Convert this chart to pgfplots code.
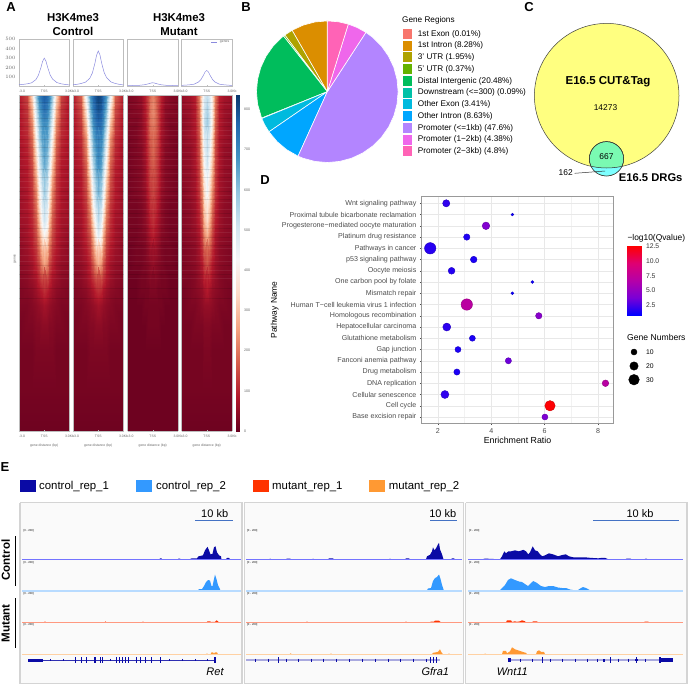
\documentclass[border=0pt]{standalone}
\usepackage{fontspec}
\setmainfont{Liberation Sans}
\usepackage{pgfplots}
\usepackage{pgfplotstable}
\pgfplotsset{compat=1.18}

\definecolor{frameg}{HTML}{BDBDBD}
\definecolor{tickg}{HTML}{666666}
\definecolor{prof}{HTML}{8A8ADE}
\definecolor{navy}{HTML}{0A0AA5}
\definecolor{sky}{HTML}{3399FF}
\definecolor{redt}{HTML}{FF3300}
\definecolor{orat}{HTML}{FF9933}
\definecolor{barb}{HTML}{4472C4}
\definecolor{gA}{HTML}{F8766D}
\definecolor{gB}{HTML}{DB8E00}
\definecolor{gC}{HTML}{AEA200}
\definecolor{gD}{HTML}{64B200}
\definecolor{gE}{HTML}{00BD5C}
\definecolor{gF}{HTML}{00C1A7}
\definecolor{gG}{HTML}{00BADE}
\definecolor{gH}{HTML}{00A6FF}
\definecolor{gI}{HTML}{B385FF}
\definecolor{gJ}{HTML}{EF67EB}
\definecolor{gK}{HTML}{FF63B6}
\definecolor{venny}{HTML}{FFFF80}
\definecolor{venng}{HTML}{7AFAB2}
\definecolor{vennc}{HTML}{7DFFFF}

\newcommand{\fs}[1]{\fontsize{#1}{#1}\selectfont}
\newcommand{\tx}[4][center]{\node[anchor=#1,inner sep=0pt] at (#2pt,-#3pt) {#4};}

\pgfplotsset{
  colormap={rdbu}{HTML=(67001F) HTML=(B2182B) HTML=(D6604D) HTML=(F4A582) HTML=(FDDBC7) HTML=(F7F7F7) HTML=(D1E5F0) HTML=(92C5DE) HTML=(4393C3) HTML=(2166AC) HTML=(053061)},
  colormap={dotcm}{HTML=(0000FF) HTML=(7A00D6) HTML=(B500A8) HTML=(DF0073) HTML=(FF0000)},
  pxroot/.style={at={(344pt,-342.5pt)},anchor=center,scale only axis,width=688pt,height=685pt,
    xmin=0,xmax=688,ymin=0,ymax=685,y dir=reverse,hide axis,clip=false},
  pxbox/.style n args={4}{at={(#1pt,-#2pt)},anchor=south west,scale only axis,width=#3pt,height=#4pt},
  small ticks/.style={
    xtick={-3,0,3},
    xticklabels={\hspace{6pt}-3.0,TSS,3.0Kb\hspace{10pt}},
    tick label style={font=\fs{3.4},text=tickg},
    major tick length=1pt,
    tick style={frameg,line width=.3pt},
    axis line style={frameg,line width=.7pt},
    xtick pos=bottom,
    xticklabel shift=0.5pt,
  },
  profile/.style={
    small ticks,xmin=-3,xmax=3,ymin=9,ymax=500,ytick=\empty,
  },
  heat/.style={
    small ticks,xmin=-3,xmax=3,ymin=0,ymax=336,ytick=\empty,view={0}{90},
    colormap name=rdbu,point meta min=0,point meta max=100,axis on top,
    xlabel={gene distance (bp)},
    xlabel style={font=\fs{3.4},text=tickg,yshift=.7pt},
  },
}

% heatmap columns (kb, one side of the TSS) and rows (px above the bottom)
\def\colx{ifthenelse(mod(\coordindex,7)<0.5,0,ifthenelse(mod(\coordindex,7)<1.5,0.3,ifthenelse(mod(\coordindex,7)<2.5,0.6,ifthenelse(mod(\coordindex,7)<3.5,0.95,ifthenelse(mod(\coordindex,7)<4.5,1.4,ifthenelse(mod(\coordindex,7)<5.5,2,3))))))}
\def\rowy{ifthenelse(\coordindex<112,336-14*floor(\coordindex/7),ifthenelse(\coordindex<119,106,ifthenelse(\coordindex<126,81,ifthenelse(\coordindex<133,41,0))))}

\pgfplotstableread[row sep=\\,header=false]{
92\\90\\85\\70\\40\\16\\10\\
88\\85\\78\\62\\32\\14\\9\\
82\\80\\72\\55\\26\\13\\9\\
80\\78\\68\\48\\22\\12\\9\\
78\\74\\62\\42\\19\\11\\8\\
76\\70\\58\\36\\17\\10\\8\\
72\\66\\50\\30\\15\\10\\8\\
68\\60\\45\\25\\14\\9\\7\\
66\\58\\40\\22\\13\\9\\7\\
60\\52\\34\\19\\12\\8\\7\\
48\\42\\28\\17\\11\\8\\6\\
40\\34\\22\\14\\10\\7\\5\\
30\\26\\17\\12\\8\\6\\5\\
20\\17\\13\\9\\7\\5\\4\\
13\\11\\9\\7\\5\\4\\3\\
8\\7\\6\\5\\4\\3\\3\\
5\\5\\4\\4\\3\\3\\2\\
3\\3\\3\\3\\2\\2\\2\\
2\\2\\2\\2\\2\\2\\2\\
1\\1\\1\\1\\1\\1\\1\\
}\heatA
\pgfplotstableread[row sep=\\,header=false]{
97\\95\\90\\80\\55\\20\\10\\
94\\92\\86\\74\\44\\17\\10\\
90\\88\\82\\66\\36\\15\\9\\
86\\84\\76\\58\\28\\13\\9\\
84\\80\\72\\52\\24\\12\\8\\
82\\78\\66\\46\\20\\11\\8\\
78\\72\\60\\38\\18\\10\\8\\
74\\68\\54\\32\\16\\10\\7\\
70\\62\\48\\26\\14\\9\\7\\
64\\56\\40\\22\\13\\8\\7\\
56\\48\\32\\18\\12\\8\\6\\
44\\38\\26\\15\\10\\7\\5\\
32\\28\\19\\12\\8\\6\\5\\
21\\18\\14\\10\\7\\5\\4\\
13\\12\\9\\7\\5\\4\\3\\
8\\7\\6\\5\\4\\3\\3\\
5\\5\\4\\4\\3\\3\\2\\
3\\3\\3\\3\\2\\2\\2\\
2\\2\\2\\2\\2\\2\\2\\
1\\1\\1\\1\\1\\1\\1\\
}\heatB
\pgfplotstableread[row sep=\\,header=false]{
25\\22\\17\\11\\6\\4\\3\\
26\\23\\16\\10\\5\\4\\3\\
24\\22\\16\\9\\5\\3\\3\\
23\\20\\15\\8\\5\\3\\2\\
21\\18\\14\\8\\4\\3\\2\\
19\\17\\13\\7\\4\\3\\2\\
18\\16\\12\\7\\4\\3\\2\\
16\\14\\11\\6\\4\\3\\2\\
15\\13\\9\\5\\3\\2\\2\\
13\\11\\8\\5\\3\\2\\2\\
11\\9\\7\\4\\3\\2\\2\\
8\\7\\5\\3\\2\\2\\1\\
6\\5\\4\\3\\2\\2\\1\\
4\\4\\3\\2\\2\\1\\1\\
3\\3\\2\\2\\2\\1\\1\\
2\\2\\2\\2\\1\\1\\1\\
2\\2\\2\\1\\1\\1\\1\\
1\\1\\1\\1\\1\\1\\1\\
1\\1\\1\\1\\1\\1\\1\\
1\\1\\1\\1\\1\\1\\1\\
}\heatC
\pgfplotstableread[row sep=\\,header=false]{
62\\58\\45\\24\\11\\8\\6\\
66\\60\\46\\22\\10\\7\\6\\
68\\62\\44\\20\\10\\7\\5\\
64\\58\\40\\18\\9\\7\\5\\
62\\54\\38\\17\\9\\6\\5\\
60\\50\\34\\16\\9\\6\\5\\
56\\46\\30\\15\\8\\6\\5\\
52\\42\\26\\14\\8\\6\\4\\
48\\38\\22\\12\\7\\5\\4\\
40\\33\\19\\11\\7\\5\\4\\
32\\26\\16\\9\\6\\5\\4\\
24\\20\\13\\8\\5\\4\\3\\
18\\15\\10\\7\\5\\4\\3\\
14\\12\\8\\6\\4\\3\\3\\
10\\8\\6\\5\\4\\3\\2\\
6\\6\\5\\4\\3\\3\\2\\
4\\4\\3\\3\\3\\2\\2\\
3\\3\\2\\2\\2\\2\\2\\
2\\2\\2\\2\\2\\2\\2\\
1\\1\\1\\1\\1\\1\\1\\
}\heatD

% thin horizontal streaks of the heatmaps
\pgfplotstableread[row sep=\\,header=false]{
327\\318\\309\\301\\296\\288\\279\\272\\266\\258\\250\\244\\236\\229\\222\\214\\207\\199\\190\\183\\176\\170\\161\\153\\
}\streakL
\pgfplotstableread[row sep=\\,header=false]{
329\\322\\313\\305\\292\\284\\275\\262\\254\\240\\232\\218\\203\\194\\186\\166\\157\\143\\133\\
}\streakD

\newcommand{\heatplot}[1]{
  \addplot3[surf,shader=interp,mesh/cols=7,mesh/ordering=x varies,point meta=\thisrowno{0}] table[x index=0,y index=0,z index=0,x expr={\colx},y expr={\rowy},z expr=0]{#1};
  \addplot3[surf,shader=interp,mesh/cols=7,mesh/ordering=x varies,point meta=\thisrowno{0}] table[x index=0,y index=0,z index=0,x expr={-(\colx)},y expr={\rowy},z expr=0]{#1};
  \addplot3[only marks,mark=-,mark size=25.25pt,mark options={white,opacity=.07,line width=.4pt}] table[x index=0,y index=0,z index=0,x expr=0,z expr=0]{\streakL};
  \addplot3[only marks,mark=-,mark size=25.25pt,mark options={black,opacity=.1,line width=.6pt}] table[x index=0,y index=0,z index=0,x expr=0,z expr=0]{\streakD};
}

% filled rectangle in the pixel axis
\newcommand{\sw}[5]{\addplot[fill=#5,draw=none] coordinates {(#1,#2)(#3,#2)(#3,#4)(#1,#4)};}
% signal track: baseline, colour, line style, x0, x1, x h rows
\newcommand{\trk}[6]{
  \addplot[fill=#2,draw=none] table[row sep=\\,x index=0,y expr={#1-\thisrowno{1}}]{#6};
  \addplot[#3,line cap=butt] coordinates {(#4,#1)(#5,#1)};
}

\begin{document}
\begin{tikzpicture}
\useasboundingbox (0pt,0pt) rectangle (688pt,-685pt);

% pixel axis for panels C and E, legends
\begin{axis}[pxroot]
  % panel B legend swatches
  \sw{402.7}{29}{412.3}{39}{gA}
  \sw{402.7}{40.7}{412.3}{50.7}{gB}
  \sw{402.7}{52.3}{412.3}{62.3}{gC}
  \sw{402.7}{64}{412.3}{74}{gD}
  \sw{402.7}{76}{412.3}{86}{gE}
  \sw{402.7}{87.7}{412.3}{97.7}{gF}
  \sw{402.7}{99.3}{412.3}{109.3}{gG}
  \sw{402.7}{111.3}{412.3}{121.3}{gH}
  \sw{402.7}{123}{412.3}{133}{gI}
  \sw{402.7}{134.7}{412.3}{144.7}{gJ}
  \sw{402.7}{146.3}{412.3}{156.3}{gK}

  % panel C circles
  \addplot[only marks,mark=*,mark size=72.3pt,mark options={fill=venny,draw=black!75,line width=.5pt}] coordinates {(606.7,95.7)};
  \addplot[only marks,mark=*,mark size=17.2pt,mark options={fill=venng,draw=none}] coordinates {(606.5,158.8)};

  % gene number legend of panel D
  \addplot[only marks,mark=*,black,mark size=3pt] coordinates {(634,352)};
  \addplot[only marks,mark=*,black,mark size=4.2pt] coordinates {(634,366)};
  \addplot[only marks,mark=*,black,mark size=5.3pt] coordinates {(634,379.7)};

  % genes legend in the profile row
  \addplot[prof,line width=.5pt] coordinates {(211,42.3)(217,42.3)};

  % panel E legend
  \sw{20}{480}{35.7}{491.7}{navy}
  \sw{136}{480}{151.7}{491.7}{sky}
  \sw{253}{480}{268.7}{491.7}{redt}
  \sw{369}{480}{385}{491.7}{orat}

  % panel E boxes
  \addplot[fill=black!2,draw=black!17,line width=1.2pt] coordinates {(20,502.7)(242,502.7)(242,683.3)(20,683.3)(20,502.7)};
  \addplot[fill=black!2,draw=black!17,line width=1.2pt] coordinates {(244.3,502.7)(463.7,502.7)(463.7,683.3)(244.3,683.3)(244.3,502.7)};
  \addplot[fill=black!2,draw=black!17,line width=1.2pt] coordinates {(465.7,502.7)(687,502.7)(687,683.3)(465.7,683.3)(465.7,502.7)};

  % scale bars
  \addplot[barb,line width=1pt] coordinates {(195,520.3)(233.3,520.3)};
  \addplot[barb,line width=1pt] coordinates {(430,520.3)(456.7,520.3)};
  \addplot[barb,line width=1pt] coordinates {(593.3,520.3)(679.3,520.3)};

  % side bars
  \addplot[black,line width=.8pt] coordinates {(15.3,536)(15.3,586)};
  \addplot[black,line width=.8pt] coordinates {(15.3,598.3)(15.3,647.7)};

  % Ret tracks
  \trk{559.3}{navy}{blue!55,line width=.9pt}{22.3}{241}{159.5 0\\160 1\\161.5 1\\162 0\\178 0\\178.5 .7\\180 .7\\180.5 0\\190 0\\191 .8\\197 1\\198.5 3\\203 4\\205 9\\207.5 12.5\\209 9\\210.5 5\\212.5 5.5\\214 12\\215.5 13\\217 7\\219 4\\221 3\\221.5 0\\226 0\\227 1.5\\229 1.5\\230 0\\}
  \trk{591}{sky}{sky!35,line width=1.5pt}{22.3}{241}{142 0\\143 .7\\144 0\\185 0\\186 .8\\187 0\\197.5 0\\199 2\\202 2\\204 5\\206 9\\208 11\\210 10.5\\211.5 5\\212.5 5\\214 12\\215 16.5\\216.5 12\\218 6\\220 2\\220.5 0\\}
  \trk{622.3}{redt}{redt!50,line width=.8pt}{22.3}{241}{44 0\\45 1\\46 0\\104.5 0\\105.5 1\\106.5 0\\142 0\\143 .8\\144 0\\206.5 0\\207.5 1\\210 1\\211 .3\\215 .5\\216.5 2\\218 1\\219 0\\}
  \trk{654.3}{orat}{orat!45,line width=.8pt}{22.3}{241}{206 0\\207 1\\208 0\\210.5 0\\211.5 2\\213 2\\214 .5\\215 2\\217 2\\218 0\\}

  % Gfra1 tracks
  \trk{559.3}{navy}{blue!55,line width=.9pt}{246}{462}{269.5 0\\270 .8\\271 0\\286 0\\287 .8\\290 .8\\291 0\\312.5 0\\313 .7\\314 0\\328 0\\329 .9\\333 .9\\334 0\\389 0\\390 .7\\391 0\\405 0\\406 1\\409 1\\410 0\\426 0\\427 3\\430 4.5\\432 8\\433 12\\434.5 9\\436 11\\437.5 14\\439 16.5\\440 10\\442 5\\443.5 0\\451 0\\452 1\\454 1\\455 0\\}
  \trk{591}{sky}{sky!35,line width=1.5pt}{246}{462}{288 0\\289 .7\\290 0\\331 0\\332 .7\\333 0\\406 0\\407 .7\\408 0\\426.5 0\\428 2.5\\431 3\\433 10\\435 13\\437 14\\439 16.5\\440.5 12\\442 6\\444 0\\}
  \trk{622.3}{redt}{redt!50,line width=.8pt}{246}{462}{306 0\\307 .8\\308 0\\405 0\\406 .8\\407 0\\430 0\\431 .8\\434 .8\\435 1.6\\439 1.6\\441 0\\}
  \trk{654.3}{orat}{orat!45,line width=.8pt}{246}{462}{289.5 0\\290.5 1\\292 0\\330 0\\331 1\\332 0\\432 0\\433 1.5\\436 2\\438 2.5\\440 5\\441.5 2\\443 0\\448 0\\449 1\\450 0\\}

  % Wnt11 tracks
  \trk{559.3}{navy}{blue!55,line width=.9pt}{468.3}{683}{482 0\\485 .7\\490 .5\\500 0\\502 3\\504.3 8\\506 6\\508.3 8\\511 8\\515 9\\519 8\\523.3 9.5\\526 8\\528.3 5\\530 7\\532.7 13\\535 9\\537.7 8\\540 5\\542.3 3\\545 4\\549 6\\553 5\\558.3 3\\561 4\\565.7 5\\569 3\\573.3 2\\578 2\\585 2\\590 1.5\\598.3 1\\602 1.5\\605 1.5\\608.3 0\\625 0\\627 .8\\630 .8\\632 0\\644 0\\646 .7\\648 0\\}
  \trk{591}{sky}{sky!35,line width=1.5pt}{468.3}{683}{483 0\\486 .6\\489 0\\499 0\\502 3\\505 6\\508 11\\511 12.7\\515 11\\519 9.5\\522 9\\525 7\\528 5\\531 8\\533.3 10\\537 8\\541 5\\545 4\\549 5\\553 5\\558 3.5\\562 3\\566 3\\570 1.5\\573 1\\578 1\\581 3\\583 4\\586 3\\590 .8\\605 .4\\606 0\\}
  \trk{622.3}{redt}{redt!50,line width=.8pt}{468.3}{683}{506 0\\507 2\\511 2\\512 .4\\515 1\\517 .5\\520 1\\522 2\\525 1\\526 0\\532 0\\533 1\\537 1\\538 0\\644 0\\645 .8\\648 .8\\649 0\\}
  \trk{654.3}{orat}{orat!45,line width=.8pt}{468.3}{683}{484 0\\485 .7\\487 0\\502 0\\503 3.5\\506 3.5\\507 1\\510 3\\512 7\\515 5\\518 4\\521 3\\524 2\\526 1.5\\527 0\\536 0\\537 3\\539 4\\541 2.5\\544 2.5\\545 0\\}

  % gene models
  \addplot[navy!85,line width=.5pt] coordinates {(28.3,660)(216,660)};
  \addplot[navy,line width=3pt] coordinates {(28.3,660)(42.7,660)};
  \addplot[only marks,mark=|,mark size=3pt,mark options={navy,line width=.9pt}] coordinates {(75,660)(81,660)(86,660)(94.3,660)(95.7,660)(100.7,660)(102.3,660)(116.7,660)(119.3,660)(122,660)(125,660)(128.3,660)(136.7,660)(140,660)(145,660)(151.7,660)(160.7,660)(214,660)(215.3,660)};
  \addplot[only marks,mark=|,mark size=1.2pt,mark options={navy,line width=.4pt}] coordinates {(50,660)(63.3,660)(110,660)(169.3,660)(181.7,660)(195,660)(206.7,660)};

  \addplot[navy!35,line width=2pt] coordinates {(246,660)(440,660)};
  \addplot[only marks,mark=|,mark size=3pt,mark options={navy,line width=.9pt}] coordinates {(278.3,660)(430.7,660)(433.3,660)(436,660)};
  \addplot[only marks,mark=|,mark size=1.5pt,mark options={navy,line width=.4pt}] coordinates {(255,660)(268,660)(286,660)(298,660)(311,660)(323,660)(336,660)(349,660)(362,660)(375,660)(388,660)(400,660)(413,660)(426,660)};

  \addplot[navy!35,line width=2pt] coordinates {(507.7,660)(673,660)};
  \addplot[navy,line width=3.5pt] coordinates {(507.7,660)(511,660)};
  \addplot[navy,line width=3pt] coordinates {(603,660)(605,660)};
  \addplot[navy,line width=2.5pt] coordinates {(635.3,660)(638,660)};
  \addplot[navy,line width=3.2pt] coordinates {(660,660)(673.3,660)};
  \addplot[only marks,mark=|,mark size=3pt,mark options={navy,line width=1.2pt}] coordinates {(542.3,660)(610.7,660)(636.7,660)(660,660)};
  \addplot[only marks,mark=|,mark size=1.5pt,mark options={navy,line width=.4pt}] coordinates {(520,660)(532,660)(550,660)(562,660)(575,660)(587,660)(597,660)(618,660)(628,660)(645,660)};
\end{axis}

% panel C: part of the small circle outside the big one, above the marks
\begin{axis}[pxroot]
  \addplot[fill=vennc,draw=none] coordinates {(591,166.3)(596.7,167.3)(601.7,167.8)(606.7,168)(611.7,167.8)(616.7,167.3)(622.2,166.3)(619.7,169.9)(615.1,173.7)(606.5,176)(597.9,173.7)(593.3,169.9)(591,166.3)};
  \addplot[black!80,line width=.5pt] coordinates {(591,166.3)(596.7,167.3)(601.7,167.8)(606.7,168)(611.7,167.8)(616.7,167.3)(622.2,166.3)};
  \addplot[only marks,mark=o,mark size=17.2pt,mark options={draw=black!75,line width=.5pt}] coordinates {(606.5,158.8)};
  \addplot[black!80,line width=.5pt] coordinates {(574.7,173.3)(605,171)};
\end{axis}

% panel A: profiles
\begin{axis}[pxbox={19}{86}{50.5}{47},profile,ytick={100,200,300,400,500},major tick length=1pt]
  \addplot[prof,line width=.5pt] coordinates {(-3,22)(-2.5,26)(-2,32)(-1.5,42)(-1,75)(-.7,120)(-.4,200)(-.2,265)(0,300)(.2,270)(.4,205)(.7,125)(1,80)(1.5,45)(2,32)(2.5,25)(3,20)};
\end{axis}
\begin{axis}[pxbox={73}{86}{50.5}{47},profile]
  \addplot[prof,line width=.5pt] coordinates {(-3,22)(-2.5,27)(-2,36)(-1.5,50)(-1,90)(-.7,145)(-.4,245)(-.2,330)(0,375)(.2,335)(.4,250)(.7,150)(1,95)(1.5,52)(2,36)(2.5,26)(3,20)};
\end{axis}
\begin{axis}[pxbox={127.5}{86}{50.5}{47},profile]
  \addplot[prof,line width=.5pt] coordinates {(-3,13)(-2,15)(-1.5,17)(-1,22)(-.5,32)(-.2,40)(0,43)(.2,40)(.5,32)(1,22)(1.5,17)(2,15)(3,13)};
\end{axis}
\begin{axis}[pxbox={181.5}{86}{50.5}{47},profile]
  \addplot[prof,line width=.5pt] coordinates {(-3,16)(-2.5,18)(-2,22)(-1.5,28)(-1,50)(-.7,75)(-.4,120)(-.2,155)(0,172)(.2,155)(.4,120)(.7,75)(1,50)(1.5,28)(2,22)(2.5,18)(3,15)};
\end{axis}

% panel A: heatmaps
\begin{axis}[pxbox={19}{431}{50.5}{336},heat]
  \heatplot{\heatA}
\end{axis}
\begin{axis}[pxbox={73}{431}{50.5}{336},heat]
  \heatplot{\heatB}
\end{axis}
\begin{axis}[pxbox={127.5}{431}{50.5}{336},heat]
  \heatplot{\heatC}
\end{axis}
\begin{axis}[pxbox={181.5}{431}{50.5}{336},heat]
  \heatplot{\heatD}
\end{axis}

% panel A: colour bar
\begin{axis}[pxbox={236}{431}{3}{336},xmin=0,xmax=1,ymin=0,ymax=836,view={0}{90},
  colormap name=rdbu,point meta min=0,point meta max=850,
  axis line style={draw=none},xtick=\empty,ytick={0,100,...,800},yticklabel pos=right,
  major tick length=0pt,yticklabel style={font=\fs{3.6},text=tickg,xshift=1.5pt},
  /pgf/number format/assume math mode=true]
  \addplot3[surf,shader=interp,mesh/cols=2,mesh/ordering=x varies,point meta=y] coordinates {(0,0,0)(1,0,0)(0,836,0)(1,836,0)};
\end{axis}

% panel B: pie
\begin{axis}[pxbox={256.5}{162.5}{141.6}{141.6},hide axis,xmin=-1,xmax=1,ymin=-1,ymax=1,clip=false]
  \pgfplotsset{every axis plot/.append style={data cs=polar,draw=white,line width=.6pt}}
  \addplot[fill=gA] coordinates {(0,0)(-269.97,1)(-270,1)(0,0)};
  \addplot[fill=gB] coordinates {(0,0)(-240.16,1)(-250,1)(-260,1)(-269.97,1)(0,0)};
  \addplot[fill=gC] coordinates {(0,0)(-233.14,1)(-240.16,1)(0,0)};
  \addplot[fill=gD] coordinates {(0,0)(-231.81,1)(-233.14,1)(0,0)};
  \addplot[fill=gE] coordinates {(0,0)(-158.08,1)(-170,1)(-180,1)(-190,1)(-200,1)(-210,1)(-220,1)(-230,1)(-231.81,1)(0,0)};
  \addplot[fill=gF] coordinates {(0,0)(-157.76,1)(-158.08,1)(0,0)};
  \addplot[fill=gG] coordinates {(0,0)(-145.48,1)(-152,1)(-157.76,1)(0,0)};
  \addplot[fill=gH] coordinates {(0,0)(-114.41,1)(-125,1)(-135,1)(-145.48,1)(0,0)};
  \addplot[fill=gI] coordinates {(0,0)(56.95,1)(50,1)(40,1)(30,1)(20,1)(10,1)(0,1)(-10,1)(-20,1)(-30,1)(-40,1)(-50,1)(-60,1)(-70,1)(-80,1)(-90,1)(-100,1)(-110,1)(-114.41,1)(0,0)};
  \addplot[fill=gJ] coordinates {(0,0)(72.72,1)(65,1)(56.95,1)(0,0)};
  \addplot[fill=gK] coordinates {(0,0)(90,1)(81,1)(72.72,1)(0,0)};
\end{axis}

% panel D: bubbles
\pgfplotstableread{
x y q s
2.31 20 2.0 3.6
4.79 19 1.2 1.4
3.80 18 4.2 3.8
3.08 17 1.6 3.2
1.71 16 1.8 5.7
3.34 15 1.5 3.3
2.51 14 1.7 3.4
5.54 13 1.2 1.5
4.79 12 1.2 1.5
3.08 11 7.1 5.7
5.78 10 4.5 3.2
2.33 9 1.9 4.0
3.29 8 1.5 3.0
2.75 7 1.5 3.0
4.64 6 3.5 3.1
2.71 5 1.5 3.1
8.28 4 7.0 3.3
2.26 3 2.0 4.0
6.20 2 12.5 5.2
6.01 1 4.0 3.0
}\bubbles
\begin{axis}[pxbox={421.7}{423.3}{191.6}{227.3},
  xmin=1.39,xmax=8.574,ymin=.44,ymax=20.65,
  xtick={2,4,6,8},xticklabels={2,4,6,8},minor xtick={3,5,7},
  ytick={1,2,...,20},
  yticklabels={Base excision repair,Cell cycle,Cellular senescence,DNA replication,Drug metabolism,Fanconi anemia pathway,Gap junction,Glutathione metabolism,Hepatocellular carcinoma,Homologous recombination,Human T−cell leukemia virus 1 infection,Mismatch repair,One carbon pool by folate,Oocyte meiosis,p53 signaling pathway,Pathways in cancer,Platinum drug resistance,Progesterone−mediated oocyte maturation,Proximal tubule bicarbonate reclamation,Wnt signaling pathway},
  tick label style={font=\fs{7.1},text=black!70},
  tick align=outside,xtick pos=bottom,ytick pos=left,major tick length=1.8pt,minor tick length=0pt,
  tick style={black!70,line width=.4pt},
  grid=both,major grid style={black!9,line width=.5pt},minor grid style={black!5,line width=.3pt},
  axis line style={black!40,line width=.7pt},
  xlabel={Enrichment Ratio},
  label style={font=\fs{8.8}},
  xlabel style={yshift=3pt},
  colormap name=dotcm,point meta min=.85,point meta max=12.6,
  clip=false]
  \addplot[scatter,only marks,mark=*,point meta=\thisrow{q},
    visualization depends on={\thisrow{s}\as\rad},
    scatter/@pre marker code/.append style={/tikz/mark size=\rad pt},
    mark options={draw=none}]
    table[x=x,y=y]{\bubbles};
\end{axis}

% panel D: colour bar
\begin{axis}[pxbox={627}{315}{14}{69},xmin=0,xmax=1,ymin=.85,ymax=12.6,view={0}{90},
  colormap name=dotcm,point meta min=.85,point meta max=12.6,
  axis line style={draw=none},xtick=\empty,
  ytick={2.5,5,7.5,10,12.5},yticklabels={2.5,5.0,7.5,10.0,12.5},yticklabel pos=right,
  major tick length=0pt,yticklabel style={font=\fs{6.8},text=black!80,xshift=1.5pt}]
  \addplot3[surf,shader=interp,mesh/cols=2,mesh/ordering=x varies,point meta=y] coordinates {(0,.85,0)(1,.85,0)(0,12.6,0)(1,12.6,0)};
\end{axis}

% stray tick dashes along the top edge
\fill[white] (0pt,0pt) rectangle (688pt,-2pt);

% panel letters and titles
\tx{11}{7.5}{\fs{13}\bfseries A}
\tx{246}{7.5}{\fs{13}\bfseries B}
\tx{529}{7.5}{\fs{13}\bfseries C}
\tx{265}{180}{\fs{13}\bfseries D}
\tx{5}{467}{\fs{13}\bfseries E}
\tx{73}{17.5}{\fs{11.4}\bfseries H3K4me3}
\tx{73}{31.5}{\fs{11.4}\bfseries Control}
\tx{179}{17.5}{\fs{11.4}\bfseries H3K4me3}
\tx{179}{31.5}{\fs{11.4}\bfseries Mutant}
\tx{224.6}{42.3}{\fs{3.4}\color{tickg}genes}
\tx{15}{259}{\rotatebox{90}{\fs{3.4}\color{tickg}genes}}
\tx{274.7}{310}{\rotatebox{90}{\fs{8.4}Pathway Name}}

% panel B legend text
\tx[west]{402}{20}{\fs{8.2}Gene Regions}
\tx[west]{417.7}{34}{\fs{8.2}1st Exon (0.01\%)}
\tx[west]{417.7}{45.7}{\fs{8.2}1st Intron (8.28\%)}
\tx[west]{417.7}{57.3}{\fs{8.2}3' UTR (1.95\%)}
\tx[west]{417.7}{69}{\fs{8.2}5' UTR (0.37\%)}
\tx[west]{417.7}{81}{\fs{8.2}Distal Intergenic (20.48\%)}
\tx[west]{417.7}{92.7}{\fs{8.2}Downstream (<=300) (0.09\%)}
\tx[west]{417.7}{104.3}{\fs{8.2}Other Exon (3.41\%)}
\tx[west]{417.7}{116.3}{\fs{8.2}Other Intron (8.63\%)}
\tx[west]{417.7}{128}{\fs{8.2}Promoter (<=1kb) (47.6\%)}
\tx[west]{417.7}{139.7}{\fs{8.2}Promoter (1−2kb) (4.38\%)}
\tx[west]{417.7}{151.3}{\fs{8.2}Promoter (2−3kb) (4.8\%)}

% panel C text
\tx{608}{82}{\fs{11.5}\bfseries E16.5 CUT\&Tag}
\tx{605.5}{108}{\fs{8.4}14273}
\tx{606.5}{157}{\fs{8.4}667}
\tx{565.7}{173}{\fs{8.4}162}
\tx{650.7}{177.7}{\fs{11.2}\bfseries E16.5 DRGs}

% panel D legends
\tx[west]{627.3}{238}{\fs{8.4}−log10(Qvalue)}
\tx[west]{627}{337}{\fs{8.6}Gene Numbers}
\tx[west]{646}{352}{\fs{6.8}10}
\tx[west]{646}{366}{\fs{6.8}20}
\tx[west]{646}{379.7}{\fs{6.8}30}

% panel E text
\tx[west]{39}{486.3}{\fs{11.4}control\_rep\_1}
\tx[west]{156}{486.3}{\fs{11.4}control\_rep\_2}
\tx[west]{272}{486.3}{\fs{11.4}mutant\_rep\_1}
\tx[west]{388.7}{486.3}{\fs{11.4}mutant\_rep\_2}
\tx{214.7}{514}{\fs{11}10 kb}
\tx{442.7}{514}{\fs{11}10 kb}
\tx{640}{514}{\fs{11}10 kb}
\tx{5.7}{560}{\rotatebox{90}{\fs{11.6}\bfseries Control}}
\tx{5.7}{623.3}{\rotatebox{90}{\fs{11.6}\bfseries Mutant}}
\tx{215}{671.7}{\fs{11}\itshape Ret}
\tx{435.3}{671.7}{\fs{11}\itshape Gfra1}
\tx{512.3}{671.7}{\fs{11}\itshape Wnt11}
\foreach \xl in {23.3,247,469} {
  \tx[west]{\xl}{531}{\fs{2.8}[0 - 200]}
  \tx[west]{\xl}{562.5}{\fs{2.8}[0 - 200]}
  \tx[west]{\xl}{593.5}{\fs{2.8}[0 - 200]}
  \tx[west]{\xl}{625}{\fs{2.8}[0 - 200]}
}
\end{tikzpicture}
\end{document}
